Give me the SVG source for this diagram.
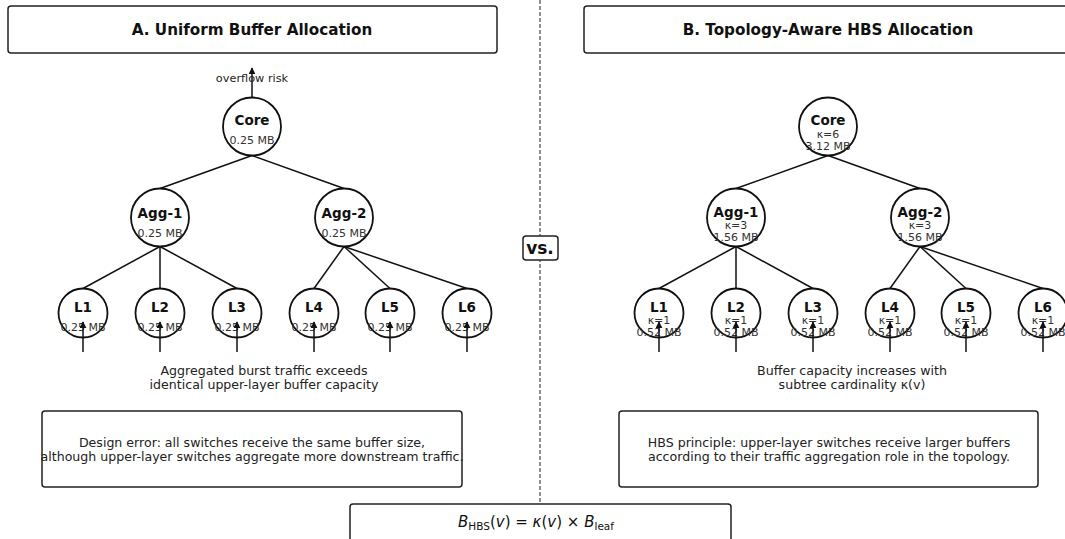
<svg xmlns="http://www.w3.org/2000/svg" width="1065" height="539" viewBox="0 0 1065 539">
  <style>
    text { font-family: "DejaVu Sans", "Liberation Sans", sans-serif; fill: #111; }
    .title { font-size: 15.2px; font-weight: bold; text-anchor: middle; }
    .box { fill: #fff; stroke: #222; stroke-width: 1.5; }
    .node { fill: #fff; stroke: #111; stroke-width: 1.8; }
    .name { font-size: 13.5px; font-weight: bold; text-anchor: middle; }
    .val { font-size: 11px; text-anchor: middle; fill: #333; }
    .cap { font-size: 12.6px; text-anchor: middle; fill: #222; }
    .edge { stroke: #111; stroke-width: 1.5; fill: none; }
    .flow { stroke: #111; stroke-width: 1.5; fill: none; marker-end: url(#tip); }
    .divider { stroke: #222; stroke-width: 1; stroke-dasharray: 4 2; }
  </style>
  <defs>
    <marker id="tip" viewBox="0 0 10 10" refX="9" refY="5" markerWidth="7" markerHeight="7" markerUnits="userSpaceOnUse" orient="auto">
      <path d="M0,0 L10,5 L0,10 Z" fill="#111"/>
    </marker>
  </defs>

  <!-- centre divider -->
  <line class="divider" x1="540" y1="0" x2="540" y2="503"/>

  <!-- panel headers -->
  <g id="title-a">
    <rect class="box" x="8" y="6" width="489" height="47" rx="3"/>
    <text class="title" x="252" y="35">A. Uniform Buffer Allocation</text>
  </g>
  <g id="title-b">
    <rect class="box" x="584" y="6" width="489" height="47" rx="3"/>
    <text class="title" x="828" y="35">B. Topology-Aware HBS Allocation</text>
  </g>

  <!-- tree links and traffic arrows -->
  <g id="connectors">
    <!-- panel A -->
    <line class="edge" x1="252" y1="155.5" x2="160" y2="188.5"/>
    <line class="edge" x1="252" y1="155.5" x2="344" y2="188.5"/>
    <line class="edge" x1="160" y1="246.5" x2="83" y2="288.5"/>
    <line class="edge" x1="160" y1="246.5" x2="160" y2="288.5"/>
    <line class="edge" x1="160" y1="246.5" x2="237" y2="288.5"/>
    <line class="edge" x1="344" y1="246.5" x2="314" y2="288.5"/>
    <line class="edge" x1="344" y1="246.5" x2="390" y2="288.5"/>
    <line class="edge" x1="344" y1="246.5" x2="467" y2="288.5"/>
    <line class="flow" x1="252" y1="97" x2="252" y2="68"/>
    <!-- panel B -->
    <line class="edge" x1="828" y1="155.5" x2="736" y2="188.5"/>
    <line class="edge" x1="828" y1="155.5" x2="920" y2="188.5"/>
    <line class="edge" x1="736" y1="246.5" x2="659" y2="288.5"/>
    <line class="edge" x1="736" y1="246.5" x2="736" y2="288.5"/>
    <line class="edge" x1="736" y1="246.5" x2="813" y2="288.5"/>
    <line class="edge" x1="920" y1="246.5" x2="890" y2="288.5"/>
    <line class="edge" x1="920" y1="246.5" x2="966" y2="288.5"/>
    <line class="edge" x1="920" y1="246.5" x2="1043" y2="288.5"/>
  </g>

  <!-- panel A nodes -->
  <g id="a-core"><circle class="node" cx="252" cy="126.5" r="29"/><text class="name" x="252" y="125">Core</text><text class="val" x="252" y="144">0.25 MB</text></g>
  <g id="a-agg1"><circle class="node" cx="160" cy="217.5" r="29"/><text class="name" x="160" y="218">Agg-1</text><text class="val" x="160" y="237">0.25 MB</text></g>
  <g id="a-agg2"><circle class="node" cx="344" cy="217.5" r="29"/><text class="name" x="344" y="218">Agg-2</text><text class="val" x="344" y="237">0.25 MB</text></g>
  <g id="a-l1"><circle class="node" cx="83" cy="313" r="24.5"/><text class="name" x="83" y="312">L1</text><text class="val" x="83" y="331">0.25 MB</text></g>
  <g id="a-l2"><circle class="node" cx="160" cy="313" r="24.5"/><text class="name" x="160" y="312">L2</text><text class="val" x="160" y="331">0.25 MB</text></g>
  <g id="a-l3"><circle class="node" cx="237" cy="313" r="24.5"/><text class="name" x="237" y="312">L3</text><text class="val" x="237" y="331">0.25 MB</text></g>
  <g id="a-l4"><circle class="node" cx="314" cy="313" r="24.5"/><text class="name" x="314" y="312">L4</text><text class="val" x="314" y="331">0.25 MB</text></g>
  <g id="a-l5"><circle class="node" cx="390" cy="313" r="24.5"/><text class="name" x="390" y="312">L5</text><text class="val" x="390" y="331">0.25 MB</text></g>
  <g id="a-l6"><circle class="node" cx="467" cy="313" r="24.5"/><text class="name" x="467" y="312">L6</text><text class="val" x="467" y="331">0.25 MB</text></g>

  <!-- panel B nodes -->
  <g id="b-core"><circle class="node" cx="828" cy="126.5" r="29"/><text class="name" x="828" y="125">Core</text><text class="val" x="828" y="138">κ=6</text><text class="val" x="828" y="150">3.12 MB</text></g>
  <g id="b-agg1"><circle class="node" cx="736" cy="217.5" r="29"/><text class="name" x="736" y="217">Agg-1</text><text class="val" x="736" y="229">κ=3</text><text class="val" x="736" y="241">1.56 MB</text></g>
  <g id="b-agg2"><circle class="node" cx="920" cy="217.5" r="29"/><text class="name" x="920" y="217">Agg-2</text><text class="val" x="920" y="229">κ=3</text><text class="val" x="920" y="241">1.56 MB</text></g>
  <g id="b-l1"><circle class="node" cx="659" cy="313" r="24.5"/><text class="name" x="659" y="312">L1</text><text class="val" x="659" y="324">κ=1</text><text class="val" x="659" y="336">0.52 MB</text></g>
  <g id="b-l2"><circle class="node" cx="736" cy="313" r="24.5"/><text class="name" x="736" y="312">L2</text><text class="val" x="736" y="324">κ=1</text><text class="val" x="736" y="336">0.52 MB</text></g>
  <g id="b-l3"><circle class="node" cx="813" cy="313" r="24.5"/><text class="name" x="813" y="312">L3</text><text class="val" x="813" y="324">κ=1</text><text class="val" x="813" y="336">0.52 MB</text></g>
  <g id="b-l4"><circle class="node" cx="890" cy="313" r="24.5"/><text class="name" x="890" y="312">L4</text><text class="val" x="890" y="324">κ=1</text><text class="val" x="890" y="336">0.52 MB</text></g>
  <g id="b-l5"><circle class="node" cx="966" cy="313" r="24.5"/><text class="name" x="966" y="312">L5</text><text class="val" x="966" y="324">κ=1</text><text class="val" x="966" y="336">0.52 MB</text></g>
  <g id="b-l6"><circle class="node" cx="1043" cy="313" r="24.5"/><text class="name" x="1043" y="312">L6</text><text class="val" x="1043" y="324">κ=1</text><text class="val" x="1043" y="336">0.52 MB</text></g>

  <!-- ingress traffic arrows drawn over the leaves -->
  <g id="ingress">
    <line class="flow" x1="83" y1="352" x2="83" y2="322"/>
    <line class="flow" x1="160" y1="352" x2="160" y2="322"/>
    <line class="flow" x1="237" y1="352" x2="237" y2="322"/>
    <line class="flow" x1="314" y1="352" x2="314" y2="322"/>
    <line class="flow" x1="390" y1="352" x2="390" y2="322"/>
    <line class="flow" x1="467" y1="352" x2="467" y2="322"/>
    <line class="flow" x1="659" y1="352" x2="659" y2="322"/>
    <line class="flow" x1="736" y1="352" x2="736" y2="322"/>
    <line class="flow" x1="813" y1="352" x2="813" y2="322"/>
    <line class="flow" x1="890" y1="352" x2="890" y2="322"/>
    <line class="flow" x1="966" y1="352" x2="966" y2="322"/>
    <line class="flow" x1="1043" y1="352" x2="1043" y2="322"/>
  </g>

  <text class="cap" x="252" y="82" style="font-size:11.3px">overflow risk</text>

  <!-- captions -->
  <text class="cap" x="264" y="375">Aggregated burst traffic exceeds</text>
  <text class="cap" x="264" y="389">identical upper-layer buffer capacity</text>
  <text class="cap" x="852" y="375">Buffer capacity increases with</text>
  <text class="cap" x="852" y="389">subtree cardinality κ(v)</text>

  <g id="note-a">
    <rect class="box" x="42" y="411" width="420" height="76" rx="3"/>
    <text class="cap" x="252" y="447">Design error: all switches receive the same buffer size,</text>
    <text class="cap" x="252" y="461">although upper-layer switches aggregate more downstream traffic.</text>
  </g>
  <g id="note-b">
    <rect class="box" x="619" y="411" width="419" height="76" rx="3"/>
    <text class="cap" x="829" y="447">HBS principle: upper-layer switches receive larger buffers</text>
    <text class="cap" x="829" y="461">according to their traffic aggregation role in the topology.</text>
  </g>

  <g id="vs">
    <rect class="box" x="523" y="236" width="35" height="24" rx="3"/>
    <text class="title" x="540" y="254" style="font-size:17px">vs.</text>
  </g>

  <g id="formula">
    <rect class="box" x="350" y="504" width="381" height="45" rx="3"/>
    <text x="536" y="527" text-anchor="middle" font-size="15"><tspan font-style="italic">B</tspan><tspan font-size="10.5" dy="3">HBS</tspan><tspan dy="-3">(</tspan><tspan font-style="italic">v</tspan>) = <tspan font-style="italic">κ</tspan>(<tspan font-style="italic">v</tspan>) × <tspan font-style="italic">B</tspan><tspan font-size="10.5" dy="3">leaf</tspan></text>
  </g>
</svg>
